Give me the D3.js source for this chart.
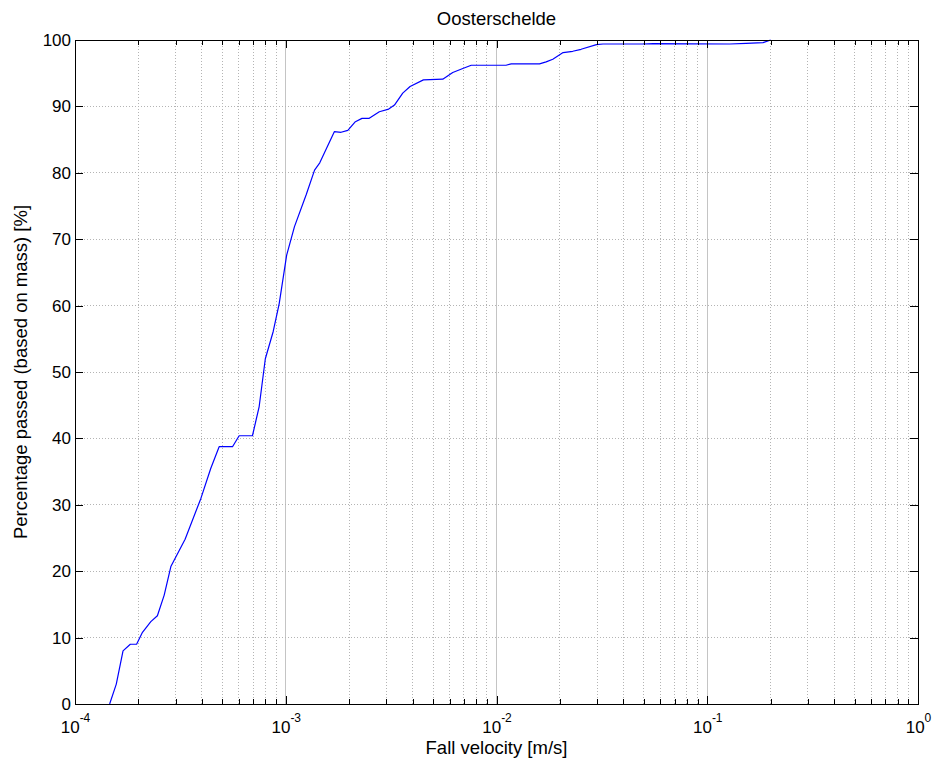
<!DOCTYPE html>
<html>
<head>
<meta charset="utf-8">
<script src="https://cdn.jsdelivr.net/npm/d3@7"></script>
<style>
  html, body { margin: 0; padding: 0; background: #fff; }
  svg { display: block; font-family: "Liberation Sans", Arial, Helvetica, sans-serif; }
</style>
</head>
<body>
<svg id="chart" width="935" height="764"></svg>
<script>
// Cumulative fall-velocity distribution, Oosterschelde sample
const velocity = [
  1.46e-4, 1.57e-4, 1.69e-4, 1.83e-4, 1.96e-4, 2.09e-4, 2.29e-4, 2.46e-4, 2.65e-4, 2.85e-4,
  3.33e-4, 3.96e-4, 4.41e-4, 4.83e-4, 5.59e-4, 6.01e-4, 6.95e-4, 7.48e-4, 8.0e-4, 8.72e-4,
  9.31e-4, 1.01e-3, 1.10e-3, 1.25e-3, 1.37e-3, 1.45e-3, 1.70e-3, 1.83e-3, 1.97e-3, 2.14e-3,
  2.30e-3, 2.49e-3, 2.78e-3, 3.08e-3, 3.28e-3, 3.59e-3, 3.89e-3, 4.50e-3, 5.56e-3, 6.2e-3,
  6.92e-3, 7.59e-3, 1.11e-2, 1.175e-2, 1.60e-2, 1.72e-2, 1.85e-2, 2.07e-2, 2.30e-2, 2.52e-2,
  2.98e-2, 3.20e-2, 4.95e-2, 5.53e-2, 1.28e-1, 1.53e-1, 1.84e-1, 2.0e-1
];
const passed = [
  0, 3.0, 8.0, 9.0, 9.0, 10.8, 12.4, 13.3, 16.4, 20.7,
  24.8, 31.0, 35.5, 38.75, 38.75, 40.4, 40.4, 44.8, 52.0, 56.1,
  60.3, 67.6, 71.9, 76.7, 80.4, 81.5, 86.2, 86.1, 86.4, 87.7,
  88.2, 88.2, 89.2, 89.6, 90.2, 92.0, 93.0, 94.0, 94.1, 95.1,
  95.7, 96.2, 96.2, 96.4, 96.4, 96.7, 97.1, 98.1, 98.3, 98.6,
  99.3, 99.4, 99.4, 99.45, 99.4, 99.5, 99.6, 100
];

const xDecades = [1e-4, 1e-3, 1e-2, 1e-1, 1];
const xExponents = ["-4", "-3", "-2", "-1", "0"];
const yTicks = [0, 10, 20, 30, 40, 50, 60, 70, 80, 90, 100];

const titleText = "Oosterschelde";
const xLabel = "Fall velocity [m/s]";
const yLabel = "Percentage passed (based on mass) [%]";

const W = 935, H = 764;
const margin = { left: 75, right: 17, top: 40, bottom: 60 };
const plotW = W - margin.left - margin.right;
const plotH = H - margin.top - margin.bottom;
const tickFont = 17;
const expFont = 12;
const labelFont = 18.5;

const svg = d3.select("#chart");
const g = svg.append("g").attr("transform", `translate(${margin.left},${margin.top})`);

const x = d3.scaleLog().domain([1e-4, 1]).range([0, plotW]);
const y = d3.scaleLinear().domain([0, 100]).range([plotH, 0]);

// minor positions 2..9 within each decade
const minorVals = [];
for (let k = 0; k < xDecades.length - 1; k++) {
  for (let m = 2; m <= 9; m++) minorVals.push(m * xDecades[k]);
}
const innerDecades = xDecades.slice(1, -1);

// grid
const grid = g.append("g").attr("class", "grid");
grid.selectAll("line.minor").data(minorVals).join("line")
  .attr("x1", d => x(d)).attr("x2", d => x(d))
  .attr("y1", 0).attr("y2", plotH)
  .attr("stroke", "#b4b4b4").attr("stroke-width", 1)
  .attr("stroke-dasharray", "1,2").attr("shape-rendering", "crispEdges");
grid.selectAll("line.major").data(innerDecades).join("line")
  .attr("x1", d => x(d)).attr("x2", d => x(d))
  .attr("y1", 0).attr("y2", plotH)
  .attr("stroke", "#c4c4c4").attr("stroke-width", 1)
  .attr("shape-rendering", "crispEdges");
grid.selectAll("line.h").data(yTicks.slice(1, -1)).join("line")
  .attr("x1", 0).attr("x2", plotW)
  .attr("y1", d => y(d)).attr("y2", d => y(d))
  .attr("stroke", "#b4b4b4").attr("stroke-width", 1)
  .attr("stroke-dasharray", "1,2").attr("shape-rendering", "crispEdges");

// data curve
const pts = velocity.map((v, i) => [v, passed[i]]);
g.append("path")
  .datum(pts)
  .attr("fill", "none")
  .attr("stroke", "#0000ff")
  .attr("stroke-width", 1.2)
  .attr("stroke-linejoin", "round")
  .attr("d", d3.line().x(d => x(d[0])).y(d => y(d[1])));

function styleAxis(sel) {
  sel.select(".domain").remove();
  sel.selectAll(".tick line").attr("stroke", "#000").attr("shape-rendering", "crispEdges");
}

// minor ticks, bottom and top
g.append("g").attr("transform", `translate(0,${plotH})`)
  .call(d3.axisBottom(x).tickValues(minorVals).tickSize(-5).tickFormat(() => ""))
  .call(styleAxis);
g.append("g")
  .call(d3.axisTop(x).tickValues(minorVals).tickSize(-5).tickFormat(() => ""))
  .call(styleAxis);

// major x ticks with power-of-ten labels
const xAxisG = g.append("g").attr("transform", `translate(0,${plotH})`)
  .call(d3.axisBottom(x).tickValues(xDecades).tickSize(-8).tickPadding(17).tickFormat(() => ""))
  .call(styleAxis);
xAxisG.selectAll(".tick text")
  .attr("font-size", tickFont)
  .attr("fill", "#000")
  .attr("dy", "0.71em")
  .each(function (d, i) {
    const t = d3.select(this);
    t.text(null);
    t.append("tspan").text("10");
    t.append("tspan").attr("dy", -11).attr("font-size", expFont).text(xExponents[i]);
  });
g.append("g")
  .call(d3.axisTop(x).tickValues(xDecades).tickSize(-8).tickFormat(() => ""))
  .call(styleAxis);

// y ticks, left with labels and right without
const yAxisG = g.append("g")
  .call(d3.axisLeft(y).tickValues(yTicks).tickSize(-8).tickPadding(4).tickFormat(d3.format("d")))
  .call(styleAxis);
yAxisG.selectAll(".tick text")
  .attr("font-size", tickFont)
  .attr("fill", "#000");
g.append("g").attr("transform", `translate(${plotW},0)`)
  .call(d3.axisRight(y).tickValues(yTicks).tickSize(-8).tickFormat(() => ""))
  .call(styleAxis);

// frame
g.append("rect")
  .attr("x", 0).attr("y", 0).attr("width", plotW).attr("height", plotH)
  .attr("fill", "none").attr("stroke", "#000").attr("stroke-width", 1)
  .attr("shape-rendering", "crispEdges");

// title and axis labels
svg.append("text")
  .attr("x", margin.left + plotW / 2).attr("y", 25)
  .attr("text-anchor", "middle").attr("font-size", labelFont).attr("fill", "#000")
  .text(titleText);
svg.append("text")
  .attr("x", margin.left + plotW / 2).attr("y", 754)
  .attr("text-anchor", "middle").attr("font-size", labelFont).attr("fill", "#000")
  .text(xLabel);
svg.append("text")
  .attr("transform", `translate(27,${margin.top + plotH / 2}) rotate(-90)`)
  .attr("text-anchor", "middle").attr("font-size", labelFont).attr("fill", "#000")
  .text(yLabel);
</script>
</body>
</html>
